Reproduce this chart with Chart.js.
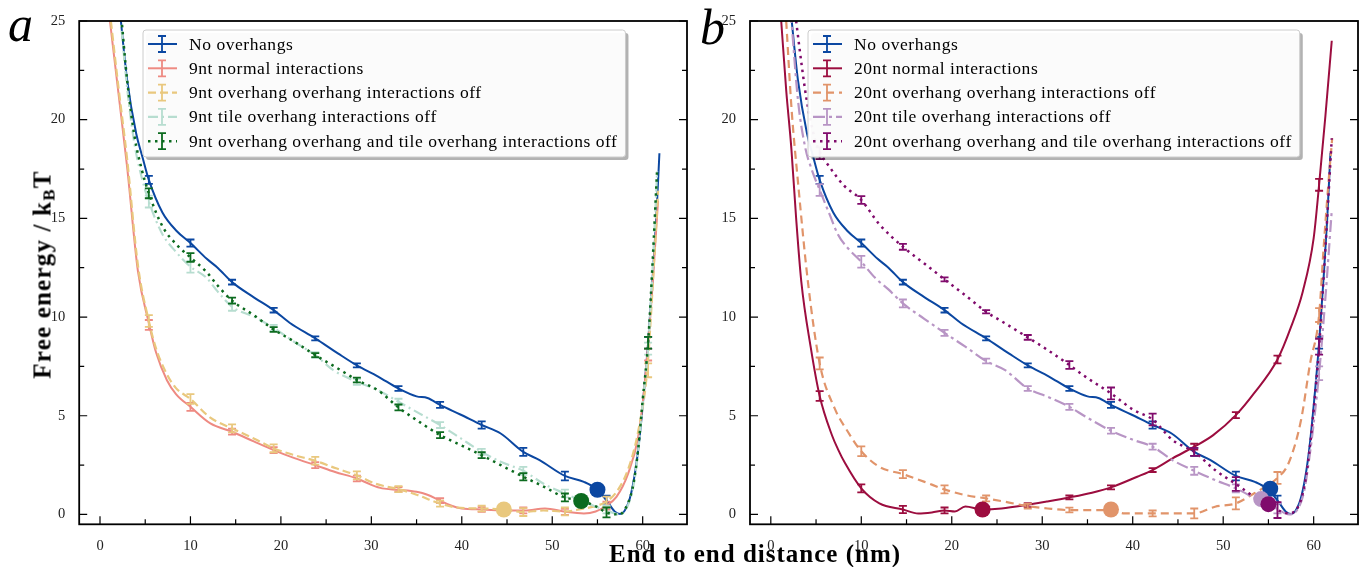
<!DOCTYPE html>
<html>
<head>
<meta charset="utf-8">
<script src="https://cdn.jsdelivr.net/npm/chart.js@4.4.1/dist/chart.umd.min.js"></script>
<style>
    body { margin: 0; background: #fff; width: 1367px; height: 567px; position: relative; overflow: hidden; font-family: "Liberation Serif", serif; }
    canvas { position: absolute; top: 0; }
    #chartA { left: 0; }
    #chartB { left: 695px; }
    .txt { position: absolute; color: #000; line-height: 1; white-space: nowrap; }
    #panelA, #panelB { font-style: italic; font-size: 50px; }
    #panelA { left: 8px; top: -1px; }
    #panelB { left: 700px; top: 2px; }
    #xTitle { left: 455px; width: 600px; top: 541px; text-align: center; font-weight: bold; font-size: 25px; letter-spacing: 1px; }
    #yTitle { left: -108px; width: 300px; top: 262px; height: 25px; text-align: center; font-weight: bold; font-size: 25px; letter-spacing: 1.2px; transform: rotate(-90deg); }
    #yTitle sub { font-size: 17px; vertical-align: -4px; }
</style>
</head>
<body>
<canvas id="chartA" width="695" height="567"></canvas>
<canvas id="chartB" width="672" height="567"></canvas>
<div class="txt" id="panelA">a</div>
<div class="txt" id="panelB">b</div>
<div class="txt" id="xTitle">End to end distance (nm)</div>
<div class="txt" id="yTitle">Free energy / k<sub>B</sub>T</div>
<script>
// оси
const xTickVals = [0, 10, 20, 30, 40, 50, 60];
const yTickVals = [0, 5, 10, 15, 20, 25];

// положения планок погрешностей (общие для всех кривых)
const errX = [5.4, 10.0, 14.6, 19.2, 23.8, 28.4, 33.0, 37.6, 42.2, 46.8, 51.4, 56.0, 60.6];

// --- панель a ---
const noOverX = [2.2, 3.0, 4.0, 4.7, 5.4, 6.9, 8.5, 10.0, 11.8, 13.0, 14.6, 17.0, 19.2, 21.0, 23.8, 26.3, 28.4, 30.7, 33.0, 35.0, 36.2, 37.6, 39.9, 42.2, 44.3, 46.8, 48.6, 51.4, 53.5, 55.0, 56.1, 56.9, 57.5, 58.4, 58.95, 59.5, 60.0, 60.6, 61.1, 61.5, 61.85];
const noOverY = [25.5, 22.0, 19.3, 18.1, 16.95, 15.3, 14.35, 13.75, 12.95, 12.5, 11.77, 11.0, 10.35, 9.7, 8.92, 8.16, 7.55, 7.0, 6.38, 5.98, 5.9, 5.55, 5.05, 4.53, 4.1, 3.17, 2.75, 1.95, 1.65, 1.25, 0.65, 0.15, 0.02, 0.56, 1.57, 3.26, 5.5, 8.7, 12.0, 15.0, 18.3];
const noOverErr = [16.95, 13.75, 11.77, 10.35, 8.92, 7.55, 6.38, 5.55, 4.53, 3.17, 1.95, 0.75, 8.7];
const noOverD = [0.2, 0.18, 0.12, 0.12, 0.1, 0.1, 0.12, 0.15, 0.18, 0.2, 0.22, 0.2, 0.3];

const n9NormX = [1.1, 2.0, 3.0, 4.2, 5.4, 6.2, 7.4, 8.4, 10.0, 12.2, 14.6, 17.0, 19.2, 21.5, 23.8, 26.0, 28.4, 30.0, 31.2, 33.0, 35.0, 36.2, 37.5, 38.8, 40.0, 42.3, 45.0, 47.0, 49.2, 51.5, 53.5, 54.8, 55.8, 57.1, 58.4, 59.5, 60.2, 61.0, 61.7];
const n9NormY = [25.0, 21.5, 17.6, 12.3, 9.7, 8.2, 6.8, 6.1, 5.45, 4.61, 4.19, 3.7, 3.26, 2.85, 2.5, 2.15, 1.82, 1.5, 1.32, 1.25, 1.15, 1.0, 0.72, 0.45, 0.3, 0.25, 0.2, 0.2, 0.3, 0.13, 0.05, 0.15, 0.39, 0.89, 2.08, 3.93, 6.5, 11.0, 15.9];
const n9NormErr = [9.6, 5.45, 4.19, 3.26, 2.5, 1.82, 1.27, 0.7, 0.25, 0.2, 0.13, 0.45, 8.1];
const n9NormD = [0.25, 0.2, 0.15, 0.15, 0.15, 0.15, 0.12, 0.12, 0.12, 0.15, 0.15, 0.2, 0.3];

const n9OOX = [1.2, 2.0, 3.0, 4.2, 5.4, 6.2, 7.4, 8.4, 10.0, 12.2, 14.6, 17.0, 19.2, 21.5, 23.8, 26.0, 28.4, 30.5, 33.0, 35.0, 37.6, 39.5, 42.2, 44.65, 46.8, 49.0, 51.4, 53.5, 55.0, 56.0, 57.2, 58.4, 59.5, 60.5, 61.1, 61.7];
const n9OOY = [25.0, 21.8, 18.0, 12.6, 9.8, 8.4, 7.1, 6.4, 5.85, 4.9, 4.36, 3.85, 3.35, 3.0, 2.72, 2.35, 1.98, 1.55, 1.28, 1.0, 0.55, 0.35, 0.3, 0.25, 0.12, 0.2, 0.15, 0.3, 0.45, 0.65, 1.2, 2.3, 4.2, 7.3, 11.5, 16.4];
const n9OOErr = [9.8, 5.85, 4.36, 3.35, 2.72, 1.98, 1.28, 0.55, 0.3, 0.12, 0.15, 0.65, 7.3];
const n9OOD = [0.3, 0.25, 0.2, 0.2, 0.2, 0.2, 0.15, 0.15, 0.15, 0.2, 0.2, 0.25, 0.35];

const n9TileX = [2.2, 3.0, 3.8, 4.6, 5.4, 6.9, 8.4, 10.0, 11.75, 13.0, 14.6, 17.1, 19.2, 21.45, 23.8, 25.8, 28.4, 30.7, 33.0, 35.3, 37.6, 39.9, 42.2, 44.3, 46.8, 49.1, 51.4, 53.5, 55.9, 57.5, 58.4, 59.0, 59.5, 60.0, 60.6, 61.1, 61.6];
const n9TileY = [25.5, 21.6, 18.8, 17.1, 15.85, 14.2, 13.3, 12.55, 12.0, 11.3, 10.52, 10.0, 9.45, 8.75, 8.07, 7.31, 6.72, 6.3, 5.71, 5.12, 4.53, 3.85, 3.17, 2.67, 2.21, 1.54, 1.06, 0.64, 0.22, 0.0, 0.5, 1.5, 3.2, 5.6, 8.5, 12.5, 17.4];
const n9TileErr = [15.85, 12.55, 10.52, 9.45, 8.07, 6.72, 5.71, 4.53, 3.17, 2.21, 1.06, 0.25, 8.4];
const n9TileD = [0.3, 0.3, 0.2, 0.15, 0.15, 0.15, 0.15, 0.15, 0.15, 0.2, 0.2, 0.2, 0.3];

const n9BothX = [2.3, 3.0, 3.8, 4.6, 5.4, 6.9, 8.4, 10.0, 11.75, 13.0, 14.6, 17.0, 19.2, 21.5, 23.8, 26.1, 28.4, 30.7, 33.0, 35.3, 37.6, 39.9, 42.2, 44.3, 46.8, 49.1, 51.4, 53.2, 54.9, 56.0, 57.4, 58.4, 59.0, 59.5, 60.0, 60.6, 61.1, 61.6];
const n9BothY = [25.5, 22.0, 19.2, 17.5, 16.27, 14.6, 13.7, 13.02, 12.3, 11.6, 10.83, 10.1, 9.37, 8.75, 8.07, 7.45, 6.81, 6.3, 5.42, 4.69, 4.02, 3.51, 3.0, 2.5, 1.91, 1.4, 0.86, 0.7, 0.39, 0.1, 0.0, 0.6, 1.6, 3.3, 5.8, 8.7, 12.8, 17.5];
const n9BothErr = [16.27, 13.02, 10.83, 9.37, 8.07, 6.81, 5.42, 4.02, 3.0, 1.91, 0.86, 0.1, 8.7];
const n9BothD = [0.25, 0.22, 0.15, 0.12, 0.1, 0.12, 0.15, 0.15, 0.15, 0.18, 0.2, 0.25, 0.3];

// минимумы (кружки), панель a
const minAX = [55.0, 53.2, 44.65];
const minAY = [1.25, 0.68, 0.25];

// --- панель b ---
const n20NormX = [1.15, 1.7, 2.27, 2.8, 3.37, 4.4, 5.4, 6.77, 7.43, 8.2, 10.0, 12.0, 14.6, 16.3, 17.8, 19.2, 20.35, 21.5, 23.4, 25.5, 28.2, 30.5, 33.0, 35.5, 37.6, 40.5, 42.2, 44.4, 46.8, 48.9, 51.4, 53.4, 56.0, 57.5, 58.8, 60.0, 60.6, 61.3, 62.0];
const n20NormY = [25.0, 21.5, 18.55, 15.0, 11.8, 8.5, 6.0, 4.0, 3.3, 2.6, 1.32, 0.56, 0.25, 0.05, 0.1, 0.2, 0.15, 0.4, 0.25, 0.3, 0.47, 0.65, 0.86, 1.1, 1.37, 1.91, 2.25, 2.84, 3.43, 4.02, 5.03, 6.13, 7.85, 9.5, 11.3, 14.0, 16.7, 20.2, 24.0];
const n20NormErr = [6.0, 1.32, 0.25, 0.2, 0.3, 0.47, 0.86, 1.37, 2.25, 3.43, 5.03, 7.85, 16.7];
const n20NormD = [0.25, 0.2, 0.18, 0.15, 0.1, 0.1, 0.1, 0.1, 0.1, 0.15, 0.15, 0.2, 0.3];

const n20OOX = [1.7, 2.3, 3.0, 4.1, 5.4, 7.06, 8.5, 10.0, 12.0, 14.6, 17.0, 19.2, 21.5, 23.8, 25.9, 28.4, 30.6, 33.0, 35.3, 37.6, 39.1, 42.2, 44.4, 46.8, 49.1, 51.4, 53.4, 54.6, 56.0, 57.2, 58.6, 59.6, 60.6, 61.1, 61.6, 62.05];
const n20OOY = [25.0, 20.5, 16.86, 11.79, 7.65, 5.37, 4.2, 3.2, 2.41, 2.04, 1.65, 1.27, 0.98, 0.81, 0.64, 0.42, 0.3, 0.22, 0.22, 0.22, 0.05, 0.05, 0.05, 0.05, 0.39, 0.56, 1.06, 1.39, 1.85, 2.57, 4.77, 7.64, 10.1, 13.5, 16.6, 19.06];
const n20OOErr = [7.65, 3.2, 2.04, 1.27, 0.81, 0.42, 0.22, 0.22, 0.05, 0.05, 0.56, 1.85, 10.1];
const n20OOD = [0.3, 0.25, 0.2, 0.2, 0.15, 0.12, 0.12, 0.15, 0.15, 0.25, 0.3, 0.3, 0.35];

const n20TileX = [2.2, 3.0, 3.8, 4.5, 5.4, 6.5, 7.4, 8.5, 10.0, 11.5, 13.0, 14.6, 17.0, 19.2, 21.5, 23.8, 25.9, 28.4, 30.6, 33.0, 34.8, 37.6, 40.1, 42.2, 44.4, 46.8, 49.1, 51.4, 53.9, 55.9, 57.3, 58.4, 59.0, 59.5, 60.0, 60.6, 61.3, 62.0];
const n20TileY = [25.5, 21.0, 18.6, 17.5, 16.44, 15.2, 14.2, 13.5, 12.8, 12.0, 11.4, 10.69, 9.9, 9.2, 8.5, 7.77, 7.31, 6.38, 5.96, 5.45, 4.95, 4.24, 3.77, 3.43, 2.75, 2.21, 1.74, 1.32, 0.72, 0.3, 0.0, 0.4, 1.3, 2.8, 4.6, 7.15, 11.0, 15.4];
const n20TileErr = [16.44, 12.8, 10.69, 9.2, 7.77, 6.38, 5.45, 4.24, 3.43, 2.21, 1.32, 0.3, 7.15];
const n20TileD = [0.3, 0.3, 0.2, 0.15, 0.12, 0.12, 0.15, 0.15, 0.15, 0.2, 0.2, 0.25, 0.35];

const n20BothX = [2.8, 3.4, 3.93, 4.85, 5.5, 6.5, 8.0, 10.0, 12.0, 14.6, 17.0, 19.2, 21.5, 23.8, 25.9, 28.4, 30.6, 33.0, 34.8, 37.6, 40.1, 42.2, 44.4, 46.8, 49.1, 51.4, 53.4, 55.0, 56.0, 57.3, 58.4, 59.0, 59.5, 60.0, 60.6, 61.3, 62.0];
const n20BothY = [25.0, 22.8, 21.1, 19.06, 18.3, 17.6, 16.7, 15.93, 14.7, 13.56, 12.7, 11.91, 11.1, 10.27, 9.68, 8.97, 8.33, 7.57, 6.97, 6.13, 5.29, 4.81, 3.77, 3.17, 2.25, 1.54, 0.9, 0.47, 0.22, 0.05, 0.5, 1.5, 3.1, 5.3, 8.5, 13.5, 19.06];
const n20BothErr = [18.3, 15.93, 13.56, 11.91, 10.27, 8.97, 7.57, 6.13, 4.81, 3.17, 1.54, 0.22, 8.5];
const n20BothD = [0.3, 0.2, 0.15, 0.1, 0.08, 0.12, 0.2, 0.3, 0.3, 0.2, 0.35, 0.4, 0.4];

// минимумы (кружки), панель b
const minBX = [55.2, 23.4, 37.6, 54.2, 55.0];
const minBY = [1.3, 0.25, 0.25, 0.78, 0.52];

const pts = (xs, ys) => xs.map((x, i) => ({ x: x, y: ys[i] }));

// планки погрешностей рисуем сразу после своей кривой
const errorBars = {
    id: "errorBars",
    afterDatasetDraw(chart, args) {
        const ds = chart.data.datasets[args.index];
        if (!ds.errY) return;
        const { ctx, chartArea: a, scales: { x, y } } = chart;
        ctx.save();
        ctx.beginPath();
        ctx.rect(a.left, a.top, a.width, a.height);
        ctx.clip();
        ctx.strokeStyle = ds.borderColor;
        ctx.lineWidth = 1.8;
        ctx.setLineDash([]);
        ds.errY.forEach((v, i) => {
            const px = x.getPixelForValue(errX[i]);
            const t = y.getPixelForValue(v + ds.errD[i]);
            const b = y.getPixelForValue(v - ds.errD[i]);
            ctx.beginPath();
            ctx.moveTo(px, t); ctx.lineTo(px, b);
            ctx.moveTo(px - 4, t); ctx.lineTo(px + 4, t);
            ctx.moveTo(px - 4, b); ctx.lineTo(px + 4, b);
            ctx.stroke();
        });
        ctx.restore();
    },
};

// легенда в рамке с тенью, как в matplotlib
const boxLegend = {
    id: "boxLegend",
    afterDatasetsDraw(chart, args, opts) {
        const ctx = chart.ctx;
        const items = chart.data.datasets.filter((d) => d.errY);
        ctx.save();
        ctx.font = opts.font;
        ctx.letterSpacing = opts.spacing;
        const tw = Math.max(...items.map((d) => ctx.measureText(d.label).width));
        const w = 46 + tw + 8;
        const h = 127;
        const bx = opts.x, by = opts.y;
        ctx.fillStyle = "rgba(0,0,0,0.3)";
        ctx.beginPath(); ctx.roundRect(bx + 3, by + 3, w, h, 3); ctx.fill();
        ctx.fillStyle = "rgba(255,255,255,0.95)";
        ctx.strokeStyle = "#cccccc";
        ctx.lineWidth = 1;
        ctx.beginPath(); ctx.roundRect(bx, by, w, h, 3); ctx.fill(); ctx.stroke();
        items.forEach((d, i) => {
            const cy = by + 14 + i * 24.3;
            const mx = bx + 19;
            ctx.strokeStyle = d.borderColor;
            ctx.lineWidth = d.borderWidth;
            ctx.setLineDash(d.borderDash || []);
            ctx.beginPath(); ctx.moveTo(bx + 5, cy); ctx.lineTo(bx + 34, cy); ctx.stroke();
            ctx.setLineDash([]);
            ctx.lineWidth = 1.8;
            ctx.beginPath();
            ctx.moveTo(mx, cy - 8); ctx.lineTo(mx, cy + 8);
            ctx.moveTo(mx - 4, cy - 8); ctx.lineTo(mx + 4, cy - 8);
            ctx.moveTo(mx - 4, cy + 8); ctx.lineTo(mx + 4, cy + 8);
            ctx.stroke();
            ctx.fillStyle = "#000";
            ctx.textBaseline = "middle";
            ctx.fillText(d.label, bx + 46, cy + 1);
        });
        ctx.restore();
    },
};

// рамка и внутренние засечки
const frameTicks = {
    id: "frameTicks",
    afterDraw(chart) {
        const { ctx, chartArea: a, scales: { x, y } } = chart;
        ctx.save();
        ctx.strokeStyle = "#000";
        ctx.lineWidth = 1.2;
        ctx.beginPath();
        xTickVals.forEach((v, i) => {
            const px = x.getPixelForValue(v);
            ctx.moveTo(px, a.bottom); ctx.lineTo(px, a.bottom - 8);
            if (i < xTickVals.length - 1) {
                const pm = x.getPixelForValue(v + 5);
                ctx.moveTo(pm, a.bottom); ctx.lineTo(pm, a.bottom - 5);
            }
        });
        yTickVals.forEach((v, i) => {
            const py = y.getPixelForValue(v);
            ctx.moveTo(a.left, py); ctx.lineTo(a.left + 8, py);
            ctx.moveTo(a.right, py); ctx.lineTo(a.right - 8, py);
            if (i < yTickVals.length - 1) {
                const pm = y.getPixelForValue(v + 2.5);
                ctx.moveTo(a.left, pm); ctx.lineTo(a.left + 5, pm);
                ctx.moveTo(a.right, pm); ctx.lineTo(a.right - 5, pm);
            }
        });
        ctx.stroke();
        ctx.lineWidth = 1.8;
        ctx.strokeRect(a.left, a.top, a.right - a.left, a.bottom - a.top);
        ctx.restore();
    },
};

Chart.defaults.font.family = '"Liberation Serif", serif';

function curve(label, xs, ys, errY, errD, color, dash, width, order) {
    return {
        label: label,
        data: pts(xs, ys),
        errY: errY,
        errD: errD,
        borderColor: color,
        borderWidth: width,
        borderDash: dash,
        pointRadius: 0,
        fill: false,
        cubicInterpolationMode: "monotone",
        order: order,
    };
}

function minima(xs, ys, colors) {
    return {
        label: "min",
        data: pts(xs, ys),
        showLine: false,
        pointRadius: 8,
        pointBorderWidth: 0,
        pointBackgroundColor: colors,
        order: -1,
    };
}

function panel(id, datasets, yWidth, padRight, legendX) {
    return new Chart(document.getElementById(id), {
        type: "line",
        data: { datasets: datasets },
        plugins: [errorBars, boxLegend, frameTicks],
        options: {
            responsive: false,
            animation: false,
            events: [],
            layout: { padding: { top: 21, right: padRight, left: 0, bottom: 0 } },
            scales: {
                x: {
                    type: "linear",
                    min: -2.3,
                    max: 64.9,
                    afterBuildTicks: (s) => { s.ticks = xTickVals.map((v) => ({ value: v })); },
                    afterFit: (s) => { s.height = 42.7; },
                    grid: { display: false },
                    border: { display: false },
                    ticks: { color: "#222", font: { size: 14.5 }, padding: 5, maxRotation: 0 },
                },
                y: {
                    type: "linear",
                    min: -0.5,
                    max: 25,
                    afterBuildTicks: (s) => { s.ticks = yTickVals.map((v) => ({ value: v })); },
                    afterFit: (s) => { s.width = yWidth; },
                    grid: { display: false },
                    border: { display: false },
                    ticks: { color: "#222", font: { size: 14.5 }, padding: 6 },
                },
            },
            plugins: {
                legend: { display: false },
                tooltip: { enabled: false },
                boxLegend: { x: legendX, y: 30, font: '17.5px "Liberation Serif", serif', spacing: "0.55px" },
            },
        },
    });
}

const blue = "#0b47a1";

panel("chartA", [
    curve("No overhangs", noOverX, noOverY, noOverErr, noOverD, blue, [], 2, 5),
    curve("9nt normal interactions", n9NormX, n9NormY, n9NormErr, n9NormD, "#ee8a82", [], 2, 4),
    curve("9nt overhang overhang interactions off", n9OOX, n9OOY, n9OOErr, n9OOD, "#e9c87e", [8, 4], 2.2, 3),
    curve("9nt tile overhang interactions off", n9TileX, n9TileY, n9TileErr, n9TileD, "#b7ddd0", [10, 4, 2, 4], 2.2, 2),
    curve("9nt overhang overhang and tile overhang interactions off", n9BothX, n9BothY, n9BothErr, n9BothD, "#0c6b1f", [2.5, 4.5], 2.5, 1),
    minima(minAX, minAY, [blue, "#0c6b1f", "#e9c87e"]),
], 79.2, 6.2, 143);

panel("chartB", [
    curve("No overhangs", noOverX, noOverY, noOverErr, noOverD, blue, [], 2, 5),
    curve("20nt normal interactions", n20NormX, n20NormY, n20NormErr, n20NormD, "#9c0d3f", [], 2, 4),
    curve("20nt overhang overhang interactions off", n20OOX, n20OOY, n20OOErr, n20OOD, "#e1946a", [8, 5], 2.2, 3),
    curve("20nt tile overhang interactions off", n20TileX, n20TileY, n20TileErr, n20TileD, "#b895c5", [12, 4, 3, 4], 2.2, 2),
    curve("20nt overhang overhang and tile overhang interactions off", n20BothX, n20BothY, n20BothErr, n20BothD, "#800b6c", [2.5, 4.5], 2.5, 1),
    minima(minBX, minBY, [blue, "#9c0d3f", "#e1946a", "#b895c5", "#800b6c"]),
], 55, 9, 113);
</script>
</body>
</html>
